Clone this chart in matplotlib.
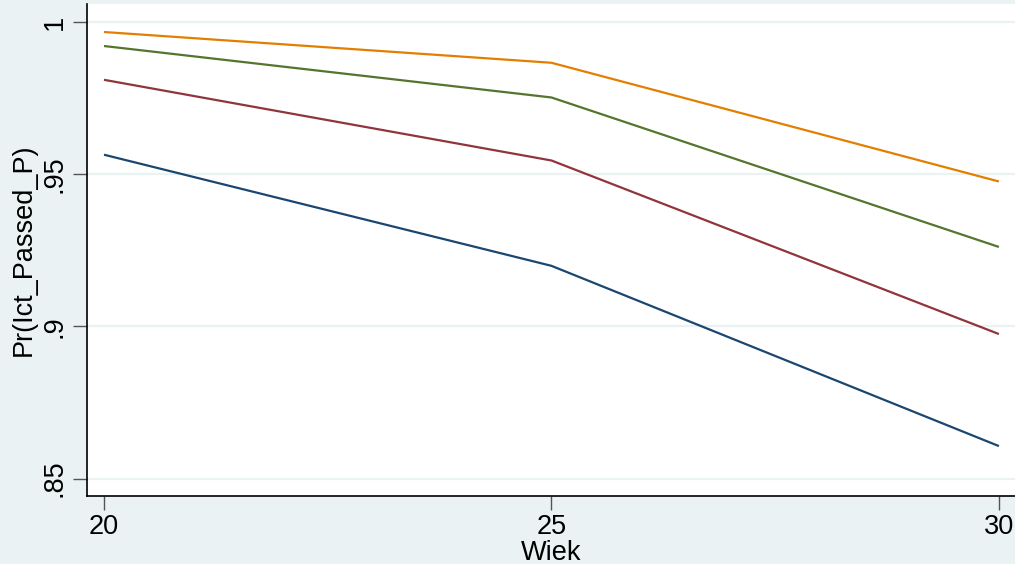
import matplotlib
matplotlib.use("Agg")
import matplotlib.pyplot as plt

wiek = [20, 25, 30]
series_1 = [0.9564, 0.9199, 0.8607]
series_2 = [0.9810, 0.9545, 0.8975]
series_3 = [0.9921, 0.9752, 0.9261]
series_4 = [0.9967, 0.9866, 0.9476]
x_ticks = [20, 25, 30]
y_ticks = [0.85, 0.9, 0.95, 1.0]
y_tick_labels = [".85", ".9", ".95", "1"]

colors = ["#1a476f", "#90353b", "#55752f", "#e37e00"]
bg = "#eaf2f3"

plt.rcParams['font.family'] = ['Liberation Sans', 'DejaVu Sans']

W, H = 1015, 564
fig = plt.figure(figsize=(W / 100, H / 100), dpi=100, facecolor=bg)
ax = fig.add_axes([87 / W, 1 - 496 / H, (1015 - 87) / W, (496 - 4) / H])
ax.set_facecolor("white")

for ys, c in zip([series_1, series_2, series_3, series_4], colors):
    ax.plot(wiek, ys, color=c, lw=1.6, solid_capstyle="butt", zorder=3)

ax.set_xlim(19.81, 30.18)
ax.set_ylim(0.8443, 1.0059)
ax.set_xticks(x_ticks)
ax.set_xticklabels([str(v) for v in x_ticks], fontsize=19.5)
ax.set_yticks(y_ticks)
ax.set_yticklabels(y_tick_labels, fontsize=19.5, rotation=90, va="center")
ax.grid(axis="y", color=bg, lw=1.6, zorder=1)
ax.grid(axis="x", visible=False)

for s in ["top", "right"]:
    ax.spines[s].set_visible(False)
for s in ["left", "bottom"]:
    ax.spines[s].set_color("black")
    ax.spines[s].set_linewidth(1.2)
ax.tick_params(axis="both", direction="out", length=10, width=1, color="#555555")
ax.tick_params(axis="y", pad=4)
ax.tick_params(axis="x", pad=3)

fig.text(551 / W, 1 - 553 / H, "Wiek", fontsize=19.5, ha="center", va="center")
fig.text(24 / W, 1 - 250 / H, "Pr(Ict_Passed_P)", fontsize=19.5, rotation=90,
         ha="center", va="center")

fig.savefig("out.png", dpi=100, facecolor=bg)
